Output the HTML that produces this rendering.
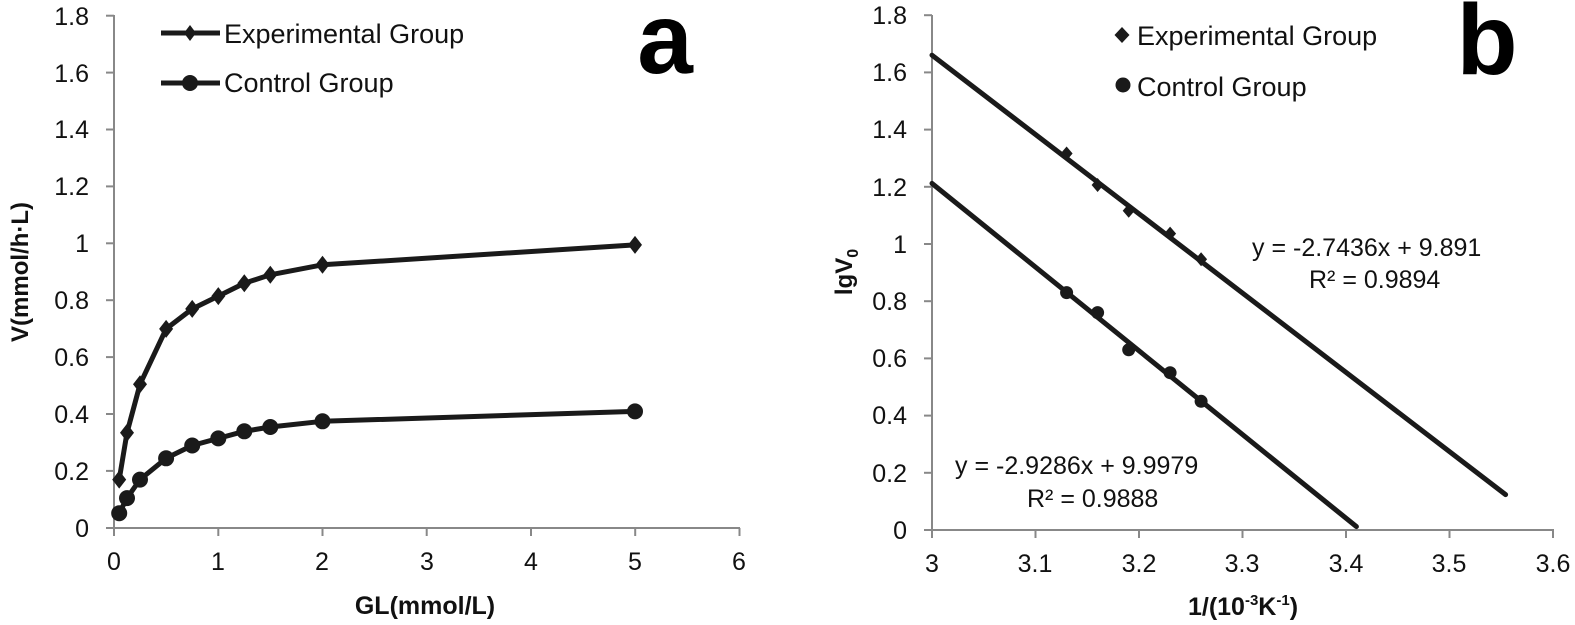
<!DOCTYPE html>
<html><head><meta charset="utf-8"><style>
html,body{margin:0;padding:0;background:#fff;}
svg{display:block;font-family:"Liberation Sans",Arial,sans-serif;}
</style></head><body>
<svg width="1575" height="625" viewBox="0 0 1575 625" xmlns="http://www.w3.org/2000/svg">
<rect width="1575" height="625" fill="#fff"/>
<!-- LEFT CHART -->
<g stroke="#888" stroke-width="2" fill="none">
<line x1="114" y1="15" x2="114" y2="528"/>
<line x1="106" y1="528" x2="740" y2="528"/>
<line x1="106" y1="15.7" x2="114" y2="15.7"/><line x1="106" y1="72.6" x2="114" y2="72.6"/><line x1="106" y1="129.5" x2="114" y2="129.5"/><line x1="106" y1="186.4" x2="114" y2="186.4"/><line x1="106" y1="243.3" x2="114" y2="243.3"/><line x1="106" y1="300.2" x2="114" y2="300.2"/><line x1="106" y1="357.1" x2="114" y2="357.1"/><line x1="106" y1="414" x2="114" y2="414"/><line x1="106" y1="470.9" x2="114" y2="470.9"/>
<line x1="114" y1="528" x2="114" y2="536"/><line x1="218.3" y1="528" x2="218.3" y2="536"/><line x1="322.5" y1="528" x2="322.5" y2="536"/><line x1="426.7" y1="528" x2="426.7" y2="536"/><line x1="531" y1="528" x2="531" y2="536"/><line x1="635.2" y1="528" x2="635.2" y2="536"/><line x1="739.5" y1="528" x2="739.5" y2="536"/>
</g>
<g font-size="25" fill="#111" text-anchor="end">
<text x="89" y="25">1.8</text><text x="89" y="82">1.6</text><text x="89" y="138">1.4</text><text x="89" y="195">1.2</text><text x="89" y="252">1</text><text x="89" y="309">0.8</text><text x="89" y="366">0.6</text><text x="89" y="423">0.4</text><text x="89" y="480">0.2</text><text x="89" y="537">0</text>
</g>
<g font-size="25" fill="#111" text-anchor="middle">
<text x="114" y="570">0</text><text x="218" y="570">1</text><text x="322" y="570">2</text><text x="427" y="570">3</text><text x="531" y="570">4</text><text x="635" y="570">5</text><text x="739" y="570">6</text>
</g>
<text x="425" y="614" font-size="25" font-weight="bold" text-anchor="middle" fill="#111">GL(mmol/L)</text>
<text transform="translate(28,272) rotate(-90)" font-size="24" font-weight="bold" text-anchor="middle" fill="#111">V(mmol/h·L)</text>
<text x="665" y="73" font-size="100" font-weight="bold" text-anchor="middle" fill="#000">a</text>
<polyline fill="none" stroke="#1a1a1a" stroke-width="5" stroke-linejoin="round" points="119.2,479.6 127,432.7 140,384.3 166.1,328.9 192.2,308.9 218.3,296.1 244.3,283.3 270.3,274.8 322.5,264.8 635,244.9"/>
<g fill="#1a1a1a">
<path d="M119.2,470.6 l7,9 l-7,9 l-7,-9z"/><path d="M127,423.7 l7,9 l-7,9 l-7,-9z"/><path d="M140,375.3 l7,9 l-7,9 l-7,-9z"/><path d="M166.1,319.9 l7,9 l-7,9 l-7,-9z"/><path d="M192.2,299.9 l7,9 l-7,9 l-7,-9z"/><path d="M218.3,287.1 l7,9 l-7,9 l-7,-9z"/><path d="M244.3,274.3 l7,9 l-7,9 l-7,-9z"/><path d="M270.3,265.8 l7,9 l-7,9 l-7,-9z"/><path d="M322.5,255.8 l7,9 l-7,9 l-7,-9z"/><path d="M635,235.9 l7,9 l-7,9 l-7,-9z"/>
</g>
<polyline fill="none" stroke="#1a1a1a" stroke-width="5" stroke-linejoin="round" points="119.2,513.2 127,498.1 140,479.6 166.1,458.3 192.2,445.5 218.3,438.4 244.3,431.3 270.3,427 322.5,421.3 635,411.4"/>
<g fill="#1a1a1a">
<circle cx="119.2" cy="513.2" r="8"/><circle cx="127" cy="498.1" r="8"/><circle cx="140" cy="479.6" r="8"/><circle cx="166.1" cy="458.3" r="8"/><circle cx="192.2" cy="445.5" r="8"/><circle cx="218.3" cy="438.4" r="8"/><circle cx="244.3" cy="431.3" r="8"/><circle cx="270.3" cy="427" r="8"/><circle cx="322.5" cy="421.3" r="8"/><circle cx="635" cy="411.4" r="8"/>
</g>
<line x1="161" y1="33" x2="220" y2="33" stroke="#1a1a1a" stroke-width="5"/>
<path d="M190,25 l6,8 l-6,8 l-6,-8z" fill="#1a1a1a"/>
<text x="224" y="43" font-size="27" fill="#111">Experimental Group</text>
<line x1="161" y1="83" x2="220" y2="83" stroke="#1a1a1a" stroke-width="5"/>
<circle cx="190" cy="83" r="8" fill="#1a1a1a"/>
<text x="224" y="92" font-size="27" fill="#111">Control Group</text>

<!-- RIGHT CHART -->
<g stroke="#888" stroke-width="2" fill="none">
<line x1="932" y1="15" x2="932" y2="530"/>
<line x1="924" y1="530" x2="1554" y2="530"/>
<line x1="924" y1="15.2" x2="932" y2="15.2"/><line x1="924" y1="72.4" x2="932" y2="72.4"/><line x1="924" y1="129.6" x2="932" y2="129.6"/><line x1="924" y1="186.8" x2="932" y2="186.8"/><line x1="924" y1="244" x2="932" y2="244"/><line x1="924" y1="301.2" x2="932" y2="301.2"/><line x1="924" y1="358.4" x2="932" y2="358.4"/><line x1="924" y1="415.6" x2="932" y2="415.6"/><line x1="924" y1="472.8" x2="932" y2="472.8"/>
<line x1="932" y1="530" x2="932" y2="538"/><line x1="1035.5" y1="530" x2="1035.5" y2="538"/><line x1="1139" y1="530" x2="1139" y2="538"/><line x1="1242.5" y1="530" x2="1242.5" y2="538"/><line x1="1346" y1="530" x2="1346" y2="538"/><line x1="1449.5" y1="530" x2="1449.5" y2="538"/><line x1="1553" y1="530" x2="1553" y2="538"/>
</g>
<g font-size="25" fill="#111" text-anchor="end">
<text x="907" y="24">1.8</text><text x="907" y="81">1.6</text><text x="907" y="138">1.4</text><text x="907" y="196">1.2</text><text x="907" y="253">1</text><text x="907" y="310">0.8</text><text x="907" y="367">0.6</text><text x="907" y="424">0.4</text><text x="907" y="482">0.2</text><text x="907" y="539">0</text>
</g>
<g font-size="25" fill="#111" text-anchor="middle">
<text x="932" y="572">3</text><text x="1035" y="572">3.1</text><text x="1139" y="572">3.2</text><text x="1242" y="572">3.3</text><text x="1346" y="572">3.4</text><text x="1449" y="572">3.5</text><text x="1553" y="572">3.6</text>
</g>
<text x="1243" y="615" font-size="25" font-weight="bold" text-anchor="middle" fill="#111">1/(10<tspan font-size="15" dy="-10">-3</tspan><tspan dy="10">K</tspan><tspan font-size="15" dy="-10">-1</tspan><tspan dy="10">)</tspan></text>
<text transform="translate(852,272) rotate(-90)" font-size="24" font-weight="bold" text-anchor="middle" fill="#111">lgV<tspan font-size="16" dy="6">0</tspan></text>
<text x="1487" y="74" font-size="100" font-weight="bold" text-anchor="middle" fill="#000">b</text>
<line x1="932" y1="55.2" x2="1505.6" y2="494.6" stroke="#1a1a1a" stroke-width="5" stroke-linecap="round"/>
<line x1="932" y1="183.4" x2="1356.4" y2="526.6" stroke="#1a1a1a" stroke-width="5" stroke-linecap="round"/>
<g fill="#1a1a1a">
<path d="M1066.6,146.5 l6,7 l-6,7 l-6,-7z"/><path d="M1097.6,178 l6,7 l-6,7 l-6,-7z"/><path d="M1128.7,203.7 l6,7 l-6,7 l-6,-7z"/><path d="M1170.1,226.6 l6,7 l-6,7 l-6,-7z"/><path d="M1201.1,252.3 l6,7 l-6,7 l-6,-7z"/>
<circle cx="1066.6" cy="292.6" r="6.5"/><circle cx="1097.6" cy="312.6" r="6.5"/><circle cx="1128.7" cy="349.8" r="6.5"/><circle cx="1170.1" cy="372.7" r="6.5"/><circle cx="1201.1" cy="401.3" r="6.5"/>
</g>
<path d="M1122,27 l7.5,8 l-7.5,8 l-7.5,-8z" fill="#1a1a1a"/>
<text x="1137" y="45" font-size="27" fill="#111">Experimental Group</text>
<circle cx="1123" cy="85" r="7.5" fill="#1a1a1a"/>
<text x="1137" y="96" font-size="27" fill="#111">Control Group</text>
<text x="1252" y="256" font-size="25" fill="#111">y = -2.7436x + 9.891</text>
<text x="1309" y="288" font-size="25" fill="#111">R² = 0.9894</text>
<text x="955" y="474" font-size="25" fill="#111">y = -2.9286x + 9.9979</text>
<text x="1027" y="507" font-size="25" fill="#111">R² = 0.9888</text>
</svg>
</body></html>
